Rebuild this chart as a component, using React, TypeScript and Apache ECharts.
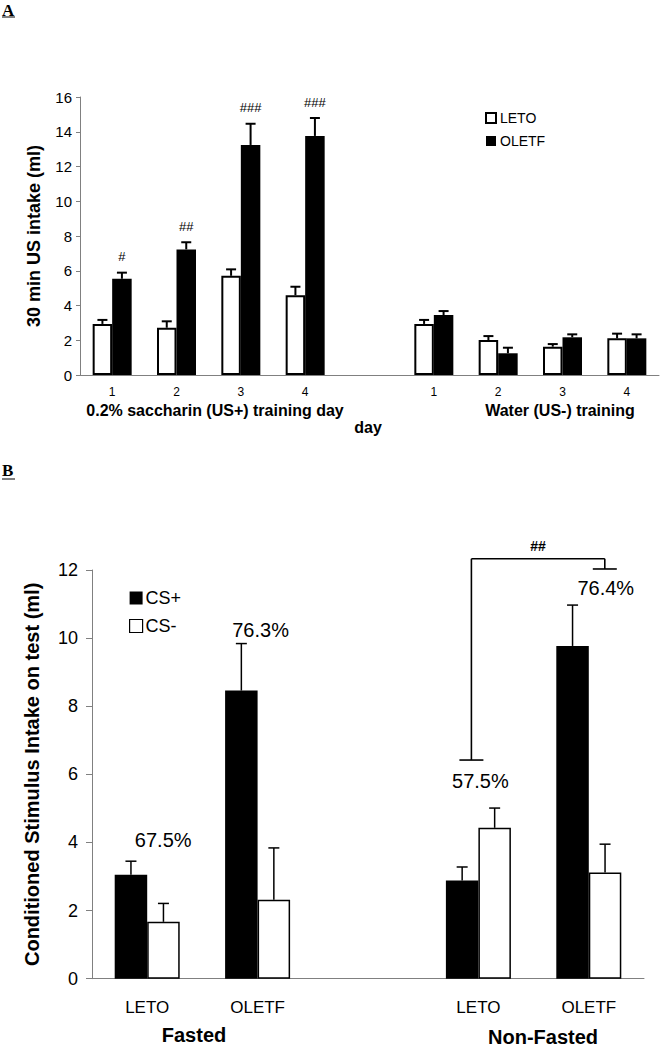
import React, { useEffect, useRef } from "react";
import * as echarts from "echarts";

// ---------- Panel A data ----------
const categoriesA = ["1", "2", "3", "4", "", "1", "2", "3", "4"];
const letoA = [2.94, 2.72, 5.71, 4.59, null, 2.94, 2.01, 1.63, 2.11];
const letoErrA = [0.23, 0.37, 0.37, 0.49, null, 0.23, 0.23, 0.15, 0.27];
const oletfA = [5.54, 7.23, 13.24, 13.76, null, 3.45, 1.25, 2.17, 2.11];
const oletfErrA = [0.35, 0.41, 1.22, 1.03, null, 0.23, 0.32, 0.17, 0.23];
const hashA = ["#", "##", "###", "###", "", "", "", "", ""];
const yTicksA = { min: 0, max: 16, interval: 2 };

// ---------- Panel B data ----------
const categoriesB = ["LETO", "OLETF", "", "LETO", "OLETF"];
const csPlus = [3.05, 8.46, null, 2.88, 9.77];
const csPlusErr = [0.4, 1.38, null, 0.4, 1.2];
const csMinus = [1.67, 2.32, null, 4.43, 3.12];
const csMinusErr = [0.54, 1.52, null, 0.58, 0.83];
const pctLabels = ["67.5%", "76.3%", "57.5%", "76.4%"];
const pctValues = [4.07, 10.24, 5.81, 11.47];
const pctCats = [0, 1, 3, 4];
const bracketLabel = "##";
const yTicksB = { min: 0, max: 12, interval: 2 };

const SANS = '"Liberation Sans", Arial, sans-serif';
const SERIF = '"Liberation Serif", "Times New Roman", serif';
const AXIS_GRAY = "#808080";

function errData(vals: (number | null)[], errs: (number | null)[]) {
  const out: number[][] = [];
  vals.forEach((v, i) => {
    if (v != null && errs[i] != null) out.push([i, v, errs[i] as number]);
  });
  return out;
}

function makeErrRender(offset: number, capW: number, lw: number, hashes?: string[]) {
  return (params: any, api: any) => {
    const i = api.value(0);
    const v = api.value(1);
    const e = api.value(2);
    const base = api.coord([i, v]);
    const top = api.coord([i, v + e]);
    const x = base[0] + offset;
    const children: any[] = [
      {
        type: "line",
        shape: { x1: x, y1: base[1], x2: x, y2: top[1] },
        style: { stroke: "#000", lineWidth: lw },
      },
      {
        type: "line",
        shape: { x1: x - capW / 2, y1: top[1], x2: x + capW / 2, y2: top[1] },
        style: { stroke: "#000", lineWidth: lw },
      },
    ];
    if (hashes && hashes[i]) {
      children.push({
        type: "text",
        x: x,
        y: top[1] - 16,
        style: {
          text: hashes[i],
          font: `13px ${SANS}`,
          fill: "#000",
          align: "center",
          verticalAlign: "middle",
        },
      });
    }
    return { type: "group", children };
  };
}

export default function App() {
  const ref = useRef<HTMLDivElement>(null);

  useEffect(() => {
    document.body.style.margin = "0";
    if (!ref.current) return;
    const chart = echarts.init(ref.current, null, { renderer: "svg" });

    const barWA = 19.5;
    const barWB = 32.5;

    const option: any = {
      animation: false,
      backgroundColor: "#fff",
      textStyle: { fontFamily: SANS, color: "#000" },
      grid: [
        { left: 80, top: 97, width: 579, height: 278, containLabel: false },
        { left: 92, top: 570, width: 552, height: 408.7, containLabel: false },
      ],
      xAxis: [
        {
          type: "category",
          gridIndex: 0,
          data: categoriesA,
          axisLine: { lineStyle: { color: AXIS_GRAY, width: 1 } },
          axisTick: { show: false },
          axisLabel: { fontSize: 12, color: "#000", margin: 11, fontFamily: SANS, interval: 0 },
        },
        {
          type: "category",
          gridIndex: 1,
          data: categoriesB,
          axisLine: { lineStyle: { color: AXIS_GRAY, width: 1 } },
          axisTick: { show: false },
          axisLabel: { fontSize: 17, color: "#000", margin: 20, fontFamily: SANS, interval: 0 },
        },
      ],
      yAxis: [
        {
          type: "value",
          gridIndex: 0,
          ...yTicksA,
          name: "30 min US intake (ml)",
          nameLocation: "middle",
          nameRotate: 90,
          nameGap: 37,
          nameTextStyle: { fontSize: 18, fontWeight: "bold", color: "#000", fontFamily: SANS },
          axisLine: { show: true, lineStyle: { color: AXIS_GRAY, width: 1 } },
          axisTick: { show: true, length: 4, lineStyle: { color: AXIS_GRAY } },
          axisLabel: { fontSize: 15, color: "#000", margin: 8, fontFamily: SANS },
          splitLine: { show: false },
        },
        {
          type: "value",
          gridIndex: 1,
          ...yTicksB,
          name: "Conditioned Stimulus Intake on test (ml)",
          nameLocation: "middle",
          nameRotate: 90,
          nameGap: 50,
          nameTextStyle: { fontSize: 20, fontWeight: "bold", color: "#000", fontFamily: SANS },
          axisLine: { show: true, lineStyle: { color: AXIS_GRAY, width: 1 } },
          axisTick: { show: true, length: 6, lineStyle: { color: AXIS_GRAY } },
          axisLabel: { fontSize: 18, color: "#000", margin: 14, fontFamily: SANS },
          splitLine: { show: false },
        },
      ],
      legend: [
        {
          orient: "vertical",
          left: 480,
          top: 106,
          itemWidth: 10,
          itemHeight: 10,
          itemGap: 9,
          textStyle: { fontSize: 14, color: "#000", fontFamily: SANS, padding: [0, 0, 0, -1] },
          data: [
            { name: "LETO", icon: "rect", itemStyle: { color: "#fff", borderColor: "#000", borderWidth: 2 } },
            { name: "OLETF", icon: "rect", itemStyle: { color: "#000", borderColor: "#000", borderWidth: 0 } },
          ],
        },
        {
          orient: "vertical",
          left: 124,
          top: 584,
          itemWidth: 13,
          itemHeight: 13,
          itemGap: 10,
          textStyle: { fontSize: 18, color: "#000", fontFamily: SANS, padding: [0, 0, 0, -2] },
          data: [
            { name: "CS+", icon: "rect", itemStyle: { color: "#000", borderColor: "#000", borderWidth: 0 } },
            { name: "CS-", icon: "rect", itemStyle: { color: "#fff", borderColor: "#000", borderWidth: 1.2 } },
          ],
        },
      ],
      series: [
        {
          name: "LETO",
          type: "bar",
          xAxisIndex: 0,
          yAxisIndex: 0,
          data: letoA.map((v) => (v == null ? "-" : v)),
          barWidth: barWA,
          barGap: "0%",
          itemStyle: { color: "#fff", borderColor: "#000", borderWidth: 2 },
        },
        {
          name: "OLETF",
          type: "bar",
          xAxisIndex: 0,
          yAxisIndex: 0,
          data: oletfA.map((v) => (v == null ? "-" : v)),
          barWidth: barWA,
          barGap: "0%",
          itemStyle: { color: "#000", borderColor: "#000", borderWidth: 0 },
        },
        {
          name: "errLETO",
          type: "custom",
          xAxisIndex: 0,
          yAxisIndex: 0,
          z: 5,
          encode: { x: 0, y: 1 },
          data: errData(letoA, letoErrA),
          renderItem: makeErrRender(-barWA / 2, 10, 2),
        },
        {
          name: "errOLETF",
          type: "custom",
          xAxisIndex: 0,
          yAxisIndex: 0,
          z: 5,
          encode: { x: 0, y: 1 },
          data: errData(oletfA, oletfErrA),
          renderItem: makeErrRender(barWA / 2, 10, 2, hashA),
        },
        {
          name: "CS+",
          type: "bar",
          xAxisIndex: 1,
          yAxisIndex: 1,
          data: csPlus.map((v) => (v == null ? "-" : v)),
          barWidth: barWB,
          barGap: "0%",
          itemStyle: { color: "#000", borderColor: "#000", borderWidth: 0 },
        },
        {
          name: "CS-",
          type: "bar",
          xAxisIndex: 1,
          yAxisIndex: 1,
          data: csMinus.map((v) => (v == null ? "-" : v)),
          barWidth: barWB,
          barGap: "0%",
          itemStyle: { color: "#fff", borderColor: "#000", borderWidth: 1.5 },
        },
        {
          name: "errCSplus",
          type: "custom",
          xAxisIndex: 1,
          yAxisIndex: 1,
          z: 5,
          encode: { x: 0, y: 1 },
          data: errData(csPlus, csPlusErr),
          renderItem: makeErrRender(-barWB / 2, 11, 1.5),
        },
        {
          name: "errCSminus",
          type: "custom",
          xAxisIndex: 1,
          yAxisIndex: 1,
          z: 5,
          encode: { x: 0, y: 1 },
          data: errData(csMinus, csMinusErr),
          renderItem: makeErrRender(barWB / 2, 11, 1.5),
        },
        {
          name: "pct",
          type: "custom",
          xAxisIndex: 1,
          yAxisIndex: 1,
          z: 6,
          encode: { x: 0, y: 1 },
          data: pctCats.map((c, k) => [c, pctValues[k], k]),
          renderItem: (params: any, api: any) => {
            const k = api.value(2);
            const dx = [16, 3, 2, 17][k];
            const p = api.coord([api.value(0), api.value(1)]);
            return {
              type: "text",
              x: p[0] + dx,
              y: p[1],
              style: {
                text: pctLabels[k],
                font: `20px ${SANS}`,
                fill: "#000",
                align: "center",
                verticalAlign: "middle",
              },
            };
          },
        },
        {
          name: "bracket",
          type: "custom",
          xAxisIndex: 1,
          yAxisIndex: 1,
          z: 6,
          encode: { x: 0, y: 1 },
          data: [[3, 12.33, 4, 6.42, 12.03]],
          renderItem: (params: any, api: any) => {
            const lTop = api.coord([api.value(0), api.value(1)]);
            const lBot = api.coord([api.value(0), api.value(3)]);
            const rTop = api.coord([api.value(2), api.value(1)]);
            const rBot = api.coord([api.value(2), api.value(4)]);
            const xl = lTop[0] - 7;
            const xr = rTop[0] + 16;
            const yTop = lTop[1];
            const st = { stroke: "#000", lineWidth: 1.6 };
            return {
              type: "group",
              children: [
                { type: "line", shape: { x1: xl, y1: yTop, x2: xr, y2: yTop }, style: st },
                { type: "line", shape: { x1: xl, y1: yTop, x2: xl, y2: lBot[1] }, style: st },
                { type: "line", shape: { x1: xl - 12, y1: lBot[1], x2: xl + 12, y2: lBot[1] }, style: st },
                { type: "line", shape: { x1: xr, y1: yTop, x2: xr, y2: rBot[1] }, style: st },
                { type: "line", shape: { x1: xr - 12, y1: rBot[1], x2: xr + 12, y2: rBot[1] }, style: st },
                {
                  type: "text",
                  x: (xl + xr) / 2,
                  y: yTop - 13,
                  style: {
                    text: bracketLabel,
                    font: `bold 14px ${SANS}`,
                    fill: "#000",
                    align: "center",
                    verticalAlign: "middle",
                  },
                },
              ],
            };
          },
        },
      ],
      graphic: [
        { type: "text", x: 2, y: 2, style: { text: "A", font: `bold 17px ${SERIF}`, fill: "#000" } },
        { type: "line", shape: { x1: 2, y1: 17, x2: 15, y2: 17 }, style: { stroke: "#000", lineWidth: 1 } },
        { type: "text", x: 2, y: 462, style: { text: "B", font: `bold 17px ${SERIF}`, fill: "#000" } },
        { type: "line", shape: { x1: 2, y1: 479, x2: 15, y2: 479 }, style: { stroke: "#000", lineWidth: 1 } },
        {
          type: "text",
          x: 215,
          y: 410,
          style: { text: "0.2% saccharin (US+) training day", font: `bold 16px ${SANS}`, fill: "#000", align: "center", verticalAlign: "middle" },
        },
        {
          type: "text",
          x: 560,
          y: 410,
          style: { text: "Water (US-) training", font: `bold 16px ${SANS}`, fill: "#000", align: "center", verticalAlign: "middle" },
        },
        {
          type: "text",
          x: 368,
          y: 427,
          style: { text: "day", font: `bold 16px ${SANS}`, fill: "#000", align: "center", verticalAlign: "middle" },
        },
        {
          type: "text",
          x: 194,
          y: 1035,
          style: { text: "Fasted", font: `bold 20px ${SANS}`, fill: "#000", align: "center", verticalAlign: "middle" },
        },
        {
          type: "text",
          x: 543,
          y: 1037,
          style: { text: "Non-Fasted", font: `bold 20px ${SANS}`, fill: "#000", align: "center", verticalAlign: "middle" },
        },
      ],
    };

    chart.setOption(option);
    return () => {
      chart.dispose();
    };
  }, []);

  return <div ref={ref} style={{ width: 661, height: 1050 }} />;
}
